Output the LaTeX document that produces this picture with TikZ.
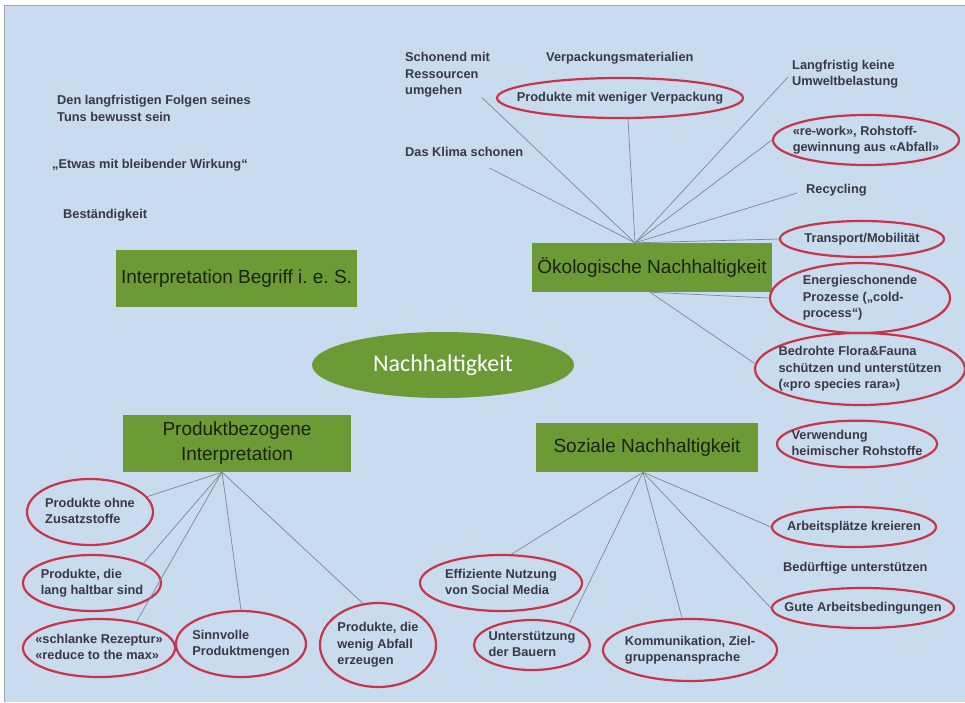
\documentclass[tikz,border=0pt]{standalone}
\usepackage{fontspec}
\setmainfont{Liberation Sans}
\newfontfamily\calibrifont{Carlito}
\usetikzlibrary{shapes.geometric}

\definecolor{bgblue}{RGB}{201,219,239}
\definecolor{leafgreen}{RGB}{108,155,54}
\definecolor{boxtext}{RGB}{26,34,16}
\definecolor{labeltext}{RGB}{56,56,70}
\definecolor{ringred}{RGB}{200,52,72}
\definecolor{linkgray}{RGB}{125,135,150}
\definecolor{framegray}{RGB}{160,166,174}

% text inside a ring must not widen the ellipse
\newcommand{\ringtext}[1]{\makebox[0pt]{\begin{tabular}{@{}l@{}}#1\end{tabular}}}

\tikzset{
  mainbox/.style={rectangle, fill=leafgreen, text=boxtext, align=center,
    inner sep=0pt, font=\fontsize{19}{25}\selectfont},
  lbl/.style={text=labeltext, align=left, inner sep=0pt, anchor=west,
    font=\fontsize{12.8}{16.5}\selectfont\bfseries},
  ring/.style={ellipse, draw=ringred, line width=2.2pt, text=labeltext,
    inner sep=0pt, font=\fontsize{12.8}{16.5}\selectfont\bfseries},
  link/.style={draw=linkgray, line width=0.7pt}
}

\begin{document}
\begin{tikzpicture}[x=1pt, y=-1pt]

        \useasboundingbox (0,0) rectangle (965,702);
        \fill[white] (0,0) rectangle (965,702);
        \fill[bgblue] (5,6) rectangle (965,702);
        \draw[framegray, line width=1.5pt] (4.5,702) -- (4.5,5.5) -- (965,5.5);

        % centre and the four main boxes
        \node[ellipse, fill=leafgreen, minimum width=262pt, minimum height=66pt,
          text=white, font=\calibrifont\fontsize{24}{29}\selectfont] (nach) at (443,365) {Nachhaltigkeit};

        \node[mainbox, minimum width=241pt, minimum height=57pt] (interp) at (236.5,278.5) {Interpretation Begriff i.\ e.\ S.};
        \node[mainbox, minimum width=240pt, minimum height=49pt] (oeko) at (652,267.5) {Ökologische Nachhaltigkeit};
        \node[mainbox, minimum width=222pt, minimum height=49pt] (soz) at (647,447.5) {Soziale Nachhaltigkeit};
        \node[mainbox, minimum width=228pt, minimum height=57pt] (prod) at (237,443.5) {Produktbezogene\\Interpretation};

        % plain labels
        \node[lbl] (folgen) at (57,108.5) {Den langfristigen Folgen seines\\Tuns bewusst sein};
        \node[lbl] (etwas) at (52,165) {„Etwas mit bleibender Wirkung“};
        \node[lbl] (bestand) at (63,215) {Beständigkeit};
        \node[lbl] (schonend) at (405,75) {Schonend mit\\Ressourcen\\umgehen};
        \node[lbl] (klima) at (405,152) {Das Klima schonen};
        \node[lbl] (verpmat) at (546,58) {Verpackungsmaterialien};
        \node[lbl] (langfr) at (792,74) {Langfristig keine\\Umweltbelastung};
        \node[lbl] (recyc) at (806,190) {Recycling};
        \node[lbl] (beduerft) at (783,568) {Bedürftige unterstützen};

        % ringed labels
        \node[ring, minimum width=246pt, minimum height=40pt] (verpackung) at (620,98) {\ringtext{Produkte mit weniger Verpackung}};
        \node[ring, minimum width=186pt, minimum height=50pt] (rework) at (866,140) {\ringtext{«re-work», Rohstoff-\\gewinnung aus «Abfall»}};
        \node[ring, minimum width=164pt, minimum height=36pt] (transport) at (862,239) {\ringtext{Transport/Mobilität}};
        \node[ring, minimum width=180pt, minimum height=64pt] (energie) at (860,298) {\ringtext{Energieschonende\\Prozesse („cold-\\process“)}};
        \node[ring, minimum width=210pt, minimum height=72pt] (bedroht) at (860,369) {\ringtext{Bedrohte Flora\&Fauna\\schützen und unterstützen\\(«pro species rara»)}};
        \node[ring, minimum width=160pt, minimum height=44pt] (heimisch) at (857,444) {\ringtext{Verwendung\\heimischer Rohstoffe}};
        \node[ring, minimum width=164pt, minimum height=40pt] (arbeit) at (854,527) {\ringtext{Arbeitsplätze kreieren}};
        \node[ring, minimum width=182pt, minimum height=40pt] (gute) at (863,608) {\ringtext{Gute Arbeitsbedingungen}};
        \node[ring, minimum width=162pt, minimum height=56pt] (effizient) at (501,583) {\ringtext{Effiziente Nutzung\\von Social Media}};
        \node[ring, minimum width=116pt, minimum height=50pt] (bauern) at (532,645) {\ringtext{Unterstützung\\der Bauern}};
        \node[ring, minimum width=174pt, minimum height=62pt] (kommun) at (690,650) {\ringtext{Kommunikation, Ziel-\\gruppenansprache}};
        \node[ring, minimum width=126pt, minimum height=66pt] (zusatz) at (90,512) {\ringtext{Produkte ohne\\Zusatzstoffe}};
        \node[ring, minimum width=138pt, minimum height=56pt] (haltbar) at (92,583) {\ringtext{Produkte, die\\lang haltbar sind}};
        \node[ring, minimum width=152pt, minimum height=58pt] (rezeptur) at (99,648) {\ringtext{«schlanke Rezeptur»\\«reduce to the max»}};
        \node[ring, minimum width=130pt, minimum height=66pt] (sinnvoll) at (241,644) {\ringtext{Sinnvolle\\Produktmengen}};
        \node[ring, minimum width=116pt, minimum height=84pt] (abfall) at (378,645) {\ringtext{Produkte, die\\wenig Abfall\\erzeugen}};

        % where the spokes meet the boxes
        \coordinate (oekotop) at ([xshift=-17pt]oeko.north);
        \coordinate (oekobot) at ([xshift=-2pt]oeko.south);
        \coordinate (soztail) at ([xshift=-4pt]soz.south);
        \coordinate (prodtail) at ([xshift=-15pt]prod.south);

        \draw[link] (oekotop) -- ([xshift=-8pt]schonend.south east);
        \draw[link] (oekotop) -- ([shift={(25,11)}]klima.south);
        \draw[link] (oekotop) -- ([xshift=8pt]verpackung.south);
        \draw[link] (oekotop) -- ([shift={(-4,3)}]langfr.west);
        \draw[link] (oekotop) -- (rework.west);
        \draw[link] (oekotop) -- ([shift={(-9,3)}]recyc.west);
        \draw[link] (oekotop) -- (transport.west);
        \draw[link] (oekobot) -- (energie.west);
        \draw[link] (oekobot) -- ([yshift=6pt]bedroht.west);

        \draw[link] (soztail) -- (effizient.70);
        \draw[link] (soztail) -- ([xshift=6pt]bauern.35);
        \draw[link] (soztail) -- ([xshift=-8pt]kommun.north);
        \draw[link] (soztail) -- (gute.west);
        \draw[link] (soztail) -- (arbeit.west);

        \draw[link] (prodtail) -- (zusatz.15);
        \draw[link] (prodtail) -- (haltbar.21);
        \draw[link] (prodtail) -- (rezeptur.35);
        \draw[link] (prodtail) -- (sinnvoll.north);
        \draw[link] (prodtail) -- (abfall.110);

\end{tikzpicture}
\end{document}
